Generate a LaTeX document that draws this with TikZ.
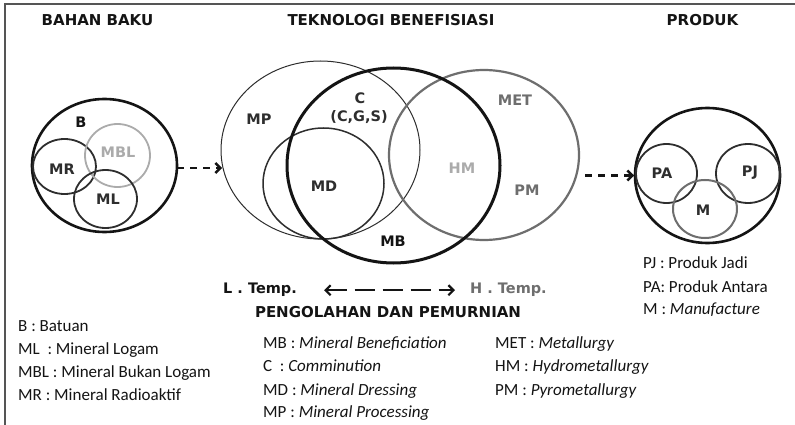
\documentclass[tikz,border=0pt]{standalone}
\usepackage{fontspec}
\setmainfont{Carlito}
\newfontfamily\hdfont{DejaVu Sans}
\usetikzlibrary{shapes.geometric,arrows.meta}

\definecolor{ink}{HTML}{141414}
\definecolor{darkring}{HTML}{2E2E2E}
\definecolor{midgray}{HTML}{6E6E6E}
\definecolor{lightgray}{HTML}{ABABAB}
\definecolor{framegray}{HTML}{555555}

\tikzset{
  ring/.style={ellipse, draw, inner sep=0pt, outer sep=0pt},
  heavy/.style={ring, line width=2.6pt, draw=ink},
  medium/.style={ring, line width=1.8pt, draw=darkring},
  thin/.style={ring, line width=1pt, draw=darkring},
  lbl/.style={font=\hdfont\bfseries\fontsize{14.5}{16}\selectfont, text=darkring, inner sep=0pt},
  head/.style={font=\hdfont\bfseries\fontsize{15}{18}\selectfont, text=ink, anchor=base, inner sep=0pt},
  legend/.style={font=\fontsize{17}{20}\selectfont, text=ink, anchor=base west, inner sep=0pt},
  flow/.style={line width=2.6pt, draw=ink, dash pattern=on 7pt off 6pt,
    -{Straight Barb[length=5pt,width=10pt,line width=2.4pt]}},
  temp/.style={line width=2.5pt, draw=ink, dash pattern=on 20pt off 8pt,
    {Straight Barb[length=5pt,width=10pt,line width=2.2pt]}-{Straight Barb[length=5pt,width=10pt,line width=2.2pt]}}
}

\begin{document}
\begin{tikzpicture}[x=1pt,y=-1pt]
\useasboundingbox (0,0) rectangle (795,425);
\fill[white] (0,0) rectangle (795,425);

% frame
\draw[framegray, line width=1.6pt] (5,425) -- (5,4) -- (800,4);

% column headers
\node[head] (hraw)  at (97.5,26) {BAHAN BAKU};
\node[head] (htech) at (391,26)  {TEKNOLOGI BENEFISIASI};
\node[head] (hprod) at (702.5,26) {PRODUK};

% raw material sets
\node[heavy, minimum width=145pt, minimum height=133pt] (B) at (104.5,165.5) {};
\node[medium, minimum width=63pt, minimum height=55pt] (MR) at (64.5,166.5) {};
\node[ring, line width=1.8pt, draw=lightgray, minimum width=65pt, minimum height=63pt] (MBL) at (117.5,155.5) {};
\node[medium, minimum width=63pt, minimum height=58pt] (ML) at (105.5,199) {};
\node[lbl, text=ink] (tB) at (81,122) {B};
\node[lbl] (tMR) at (62,169) {MR};
\node[lbl, text=lightgray] (tMBL) at (118,152) {MBL};
\node[lbl] (tML) at (108,199) {ML};

% beneficiation technology sets
\node[thin, minimum width=199pt, minimum height=178pt] (MP) at (320.5,150) {};
\node[medium, line width=1.5pt, minimum width=121pt, minimum height=111pt] (MD) at (323.5,183.5) {};
\node[ring, line width=2.2pt, draw=midgray, minimum width=190pt, minimum height=170pt] (MET) at (484,155) {};
\node[ring, line width=3pt, draw=ink, minimum width=213pt, minimum height=195pt] (MB) at (393.5,165.5) {};
\node[lbl] (tMP) at (259,119) {MP};
\node[lbl] (tC) at (360,98) {C};
\node[lbl] (tCGS) at (359,117) {(C,G,S)};
\node[lbl] (tMD) at (324,186) {MD};
\node[lbl, text=ink] (tMB) at (393,241) {MB};
\node[lbl, text=midgray] (tMET) at (515,100) {MET};
\node[lbl, text=lightgray] (tHM) at (462,168) {HM};
\node[lbl, text=midgray] (tPM) at (527,190) {PM};

% product sets
\node[heavy, minimum width=145pt, minimum height=135pt] (P) at (707.5,175.5) {};
\node[medium, minimum width=61pt, minimum height=59pt] (PA) at (666.5,173.5) {};
\node[medium, minimum width=64pt, minimum height=59pt] (PJ) at (748,173.5) {};
\node[ring, line width=2pt, draw=midgray, minimum width=64pt, minimum height=58pt] (M) at (705,209) {};
\node[lbl] (tPA) at (662,173) {PA};
\node[lbl] (tPJ) at (750,173) {PJ};
\node[lbl] (tM) at (703,210) {M};

% flow arrows between the stages
\coordinate (rawout) at ([yshift=-2.5pt]B.east);
\draw[flow] (rawout) -- ([xshift=1pt]MP.west |- rawout);
\draw[flow] ([xshift=6pt]MET.east |- P.west) -- ([xshift=-1pt]P.west);

% temperature scale
\node[lbl, text=ink, anchor=base west] (LT) at (223,293) {L . Temp.};
\node[lbl, text=midgray, anchor=base west] (HT) at (470,293) {H . Temp.};
\draw[temp, shorten <=27pt, shorten >=15pt] ([yshift=-1pt]LT.east) -- ([yshift=-1pt]HT.west);
\node[head] (hproc) at (388,317) {PENGOLAHAN DAN PEMURNIAN};

% legends
\node[legend] (l1) at (18,331)   {B : Batuan};
\node[legend] (l2) at (18,354)   {ML~~: Mineral Logam};
\node[legend] (l3) at (18,377)   {MBL : Mineral Bukan Logam};
\node[legend] (l4) at (18,400)   {MR : Mineral Radioaktif};

\node[legend] (m1) at (263,348)  {MB : \textit{Mineral Beneficiation}};
\node[legend] (m2) at (263,371)  {C~~: \textit{Comminution}};
\node[legend] (m3) at (263,395)  {MD : \textit{Mineral Dressing}};
\node[legend] (m4) at (263,417.5){MP : \textit{Mineral Processing}};

\node[legend] (r1) at (495,348)  {MET : \textit{Metallurgy}};
\node[legend] (r2) at (495,371)  {HM : \textit{Hydrometallurgy}};
\node[legend] (r3) at (495,395)  {PM : \textit{Pyrometallurgy}};

\node[legend] (p1) at (643,268)  {PJ : Produk Jadi};
\node[legend] (p2) at (643,292)  {PA: Produk Antara};
\node[legend] (p3) at (643,314.5){M : \textit{Manufacture}};
\end{tikzpicture}
\end{document}
